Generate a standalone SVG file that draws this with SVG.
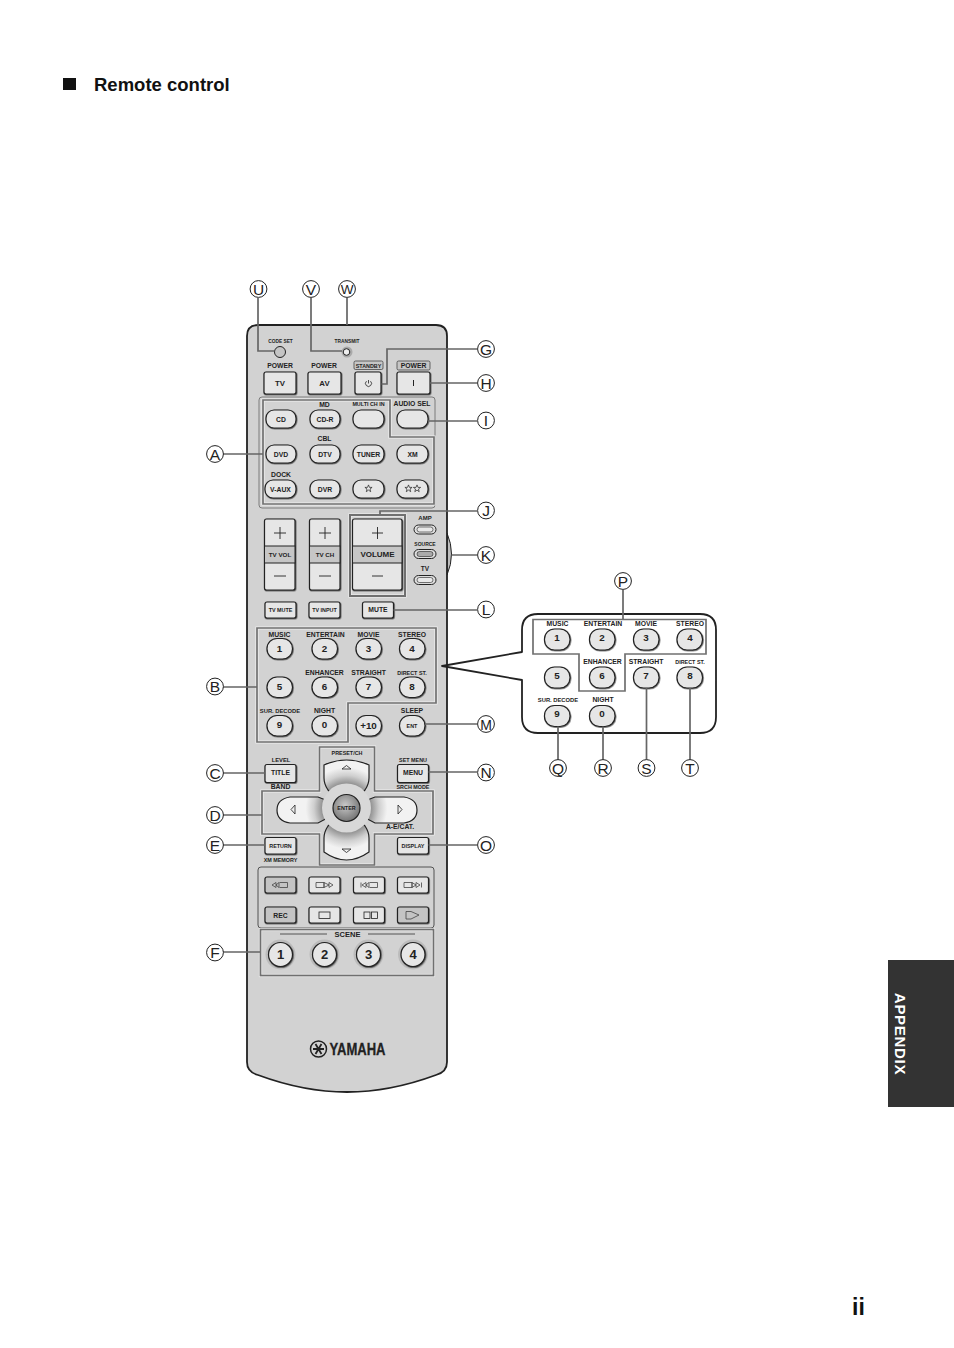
<svg xmlns="http://www.w3.org/2000/svg" width="954" height="1348" viewBox="0 0 954 1348">
<style>
text{font-family:"Liberation Sans",Arial,sans-serif;fill:#222;text-anchor:middle}
.t{font-weight:700;font-size:6.800px}
.s{font-weight:700;font-size:5.400px}
.b{font-weight:700;font-size:7.800px}
.n{font-weight:700;font-size:9.800px}
.c{font-size:15.500px;fill:#222}
.lc{fill:#fff;stroke:#222;stroke-width:1}
.btn{fill:#e6e6e6;stroke:#222;stroke-width:1.200;filter:url(#sh)}
.gbtn{fill:#c4c4c4;stroke:#222;stroke-width:1.200;filter:url(#sh)}
.nav{fill:url(#navg);stroke:#222;stroke-width:1.200}
.hw{fill:none;stroke:#efefef;stroke-width:3.200}
.hg{fill:none;stroke:#707070;stroke-width:1.700}
.ln{fill:none;stroke:#666;stroke-width:1.700}
.g{fill:none;stroke:#444;stroke-width:.8}
</style>
<defs>
<filter id="sh" x="-10%" y="-10%" width="125%" height="130%"><feDropShadow dx=".6" dy=".7" stdDeviation=".25" flood-color="#222" flood-opacity=".8"/></filter>
<radialGradient id="navg" gradientUnits="userSpaceOnUse" cx="346.500" cy="808" r="48"><stop offset=".5" stop-color="#8f8f8f"/><stop offset=".68" stop-color="#cfcfcf"/><stop offset=".85" stop-color="#f2f2f2"/></radialGradient>
<radialGradient id="entg" cx=".45" cy=".4" r=".65"><stop offset="0" stop-color="#c8c8c8"/><stop offset="1" stop-color="#6e6e6e"/></radialGradient>
<path id="star" d="M0-3.600 1 -1.100 3.600 -1.100 1.500 .5 2.200 3.200 0 1.600 -2.200 3.200 -1.500 .5 -3.600 -1.100 -1 -1.100Z" fill="none" stroke="#222" stroke-width=".7"/>
</defs>
<rect width="954" height="1348" fill="#fff"/>

<g id="heading">
<rect x="63" y="78" width="13" height="12" fill="#111"/>
<text x="94" y="91" style="text-anchor:start;font-weight:700;font-size:18.500px;fill:#111">Remote control</text>
</g>
<g id="tab">
<rect x="888" y="960" width="66" height="147" fill="#333"/>
<text transform="translate(895,1034) rotate(90)" style="font-weight:700;font-size:15px;fill:#fff;letter-spacing:.7px">APPENDIX</text>
</g>
<text id="page" x="858.500" y="1315" style="font-weight:700;font-size:23px;fill:#111">ii</text>

<g id="remote-body">
<path d="M447 533Q456 554 447 575Z" fill="#bdbdbd" stroke="#222" stroke-width="1"/>
<path d="M247 336Q247 325 258 325H436Q447 325 447 336V1062Q447 1072 436 1075Q390 1092 347 1092Q304 1092 258 1075Q247 1072 247 1062Z" fill="#d2d2d2" stroke="#222" stroke-width="1.800"/>
</g>

<g id="highlights">
<rect x="259" y="397" width="176" height="111" rx="3" fill="none" stroke="#666" stroke-width=".8"/>
<path class="hw" d="M263 400H390V437H434V504H263Z"/><path class="hg" d="M263 400H390V437H434V504H263Z"/>
<rect class="hw" x="350" y="515" width="55" height="81"/><rect class="hg" x="350" y="515" width="55" height="81" style="stroke-width:2"/>
<path class="hw" d="M257 628H436V703H348V742H257Z"/><path class="hg" d="M257 628H436V703H348V742H257Z"/>
<path class="hw" d="M319.500 747H374.500V791H433V834H374.500V865H319.500V834H262V791H319.500Z"/><path class="hg" d="M319.500 747H374.500V791H433V834H374.500V865H319.500V834H262V791H319.500Z"/>
<rect x="258" y="867" width="176" height="61" rx="3" fill="none" stroke="#444" stroke-width=".9"/>
<rect class="hw" x="260.500" y="929.500" width="173" height="46"/><rect class="hg" x="260.500" y="929.500" width="173" height="46"/>
</g>

<g id="top-row">
<text class="s" x="280.500" y="343" style="font-size:4.800px">CODE SET</text>
<text class="s" x="347" y="343" style="font-size:4.800px">TRANSMIT</text>
<circle cx="280" cy="352" r="5.500" fill="#c4c4c4" stroke="#222" stroke-width="1"/>
<circle cx="347" cy="352" r="5.500" fill="#aaa"/><circle cx="346.500" cy="352" r="3.300" fill="#eee" stroke="#222" stroke-width="1"/>
<text class="t" x="280" y="368">POWER</text><text class="t" x="324" y="368">POWER</text>
<rect x="354" y="361" width="29" height="8.500" rx="1.500" fill="#c6c6c6" stroke="#333" stroke-width=".7"/><text class="s" x="368.500" y="367.500">STANDBY</text>
<rect x="397" y="361" width="33" height="9" rx="1.500" fill="#c6c6c6" stroke="#333" stroke-width=".7"/><text class="t" x="413.500" y="368">POWER</text>
</g>
<g id="btn-tv"><rect class="btn" x="264" y="372" width="32" height="22" rx="2"/><text class="b" x="280" y="386">TV</text></g>
<g id="btn-av"><rect class="btn" x="308" y="372" width="33" height="22" rx="2"/><text class="b" x="324.500" y="386">AV</text></g>
<g id="btn-standby"><rect class="btn" x="355" y="372" width="26" height="22" rx="2"/><path d="M366.500 381.200a3 3 0 1 0 4 0M368.500 380v3.500" fill="none" stroke="#222" stroke-width=".8"/></g>
<g id="btn-i"><rect class="btn" x="397" y="372" width="33" height="22" rx="2"/><path d="M413.500 380v6" stroke="#222" stroke-width="1"/></g>

<g id="input-labels">
<text class="t" x="324.500" y="406.500">MD</text><text class="s" x="368.500" y="405.500">MULTI CH IN</text>
<text class="t" x="412" y="405.500">AUDIO SEL</text><text class="t" x="324.500" y="441">CBL</text><text class="t" x="281" y="477">DOCK</text>
</g>
<g id="input-buttons">
<rect class="btn" x="266" y="410" width="30" height="18" rx="8"/><text class="t" x="281" y="421.500">CD</text>
<rect class="btn" x="310" y="410" width="30" height="18" rx="8"/><text class="t" x="325" y="421.500">CD-R</text>
<rect class="btn" x="353" y="410" width="31" height="18" rx="8"/>
<rect class="btn" x="397" y="410" width="31" height="18" rx="8"/>
<rect class="btn" x="266" y="445" width="30" height="18" rx="8"/><text class="t" x="281" y="456.500">DVD</text>
<rect class="btn" x="310" y="445" width="30" height="18" rx="8"/><text class="t" x="325" y="456.500">DTV</text>
<rect class="btn" x="353" y="445" width="31" height="18" rx="8"/><text class="t" x="368.500" y="456.500">TUNER</text>
<rect class="btn" x="397" y="445" width="31" height="18" rx="8"/><text class="t" x="412.500" y="456.500">XM</text>
<rect class="btn" x="265" y="480" width="31" height="18" rx="8"/><text class="t" x="280.500" y="491.500">V-AUX</text>
<rect class="btn" x="310" y="480" width="30" height="18" rx="8"/><text class="t" x="325" y="491.500">DVR</text>
<rect class="btn" x="353" y="480" width="31" height="18" rx="8"/><use href="#star" x="368.500" y="488.500"/>
<rect class="btn" x="397" y="480" width="31" height="18" rx="8"/><use href="#star" x="408.500" y="488.500"/><use href="#star" x="417" y="488.500"/>
</g>

<g id="tv-vol">
<rect class="btn" x="264.500" y="519" width="30.500" height="71" rx="2"/>
<rect x="264.500" y="546" width="30.500" height="17" fill="#c6c6c6" stroke="#222" stroke-width="1"/>
<path d="M274 533H286M280 527V539M274 576H286" stroke="#222" fill="none" stroke-width=".9"/>
<text class="s" x="280" y="556.500" style="font-size:6.200px">TV VOL</text>
</g>
<g id="tv-ch">
<rect class="btn" x="309.500" y="519" width="30.500" height="71" rx="2"/>
<rect x="309.500" y="546" width="30.500" height="17" fill="#c6c6c6" stroke="#222" stroke-width="1"/>
<path d="M319 533H331M325 527V539M319 576H331" stroke="#222" fill="none" stroke-width=".9"/>
<text class="s" x="325" y="556.500" style="font-size:6.200px">TV CH</text>
</g>
<g id="volume">
<rect class="btn" x="352.500" y="519" width="49.500" height="71" rx="2"/>
<rect x="352.500" y="546" width="49.500" height="17" fill="#c6c6c6" stroke="#222" stroke-width="1"/>
<path d="M372 533H383M377.500 527V539M372 576H383" stroke="#222" fill="none" stroke-width=".9"/>
<text class="t" x="377.500" y="557" style="font-size:8px">VOLUME</text>
</g>
<g id="mode-leds">
<text class="s" x="425" y="520" style="font-size:6px">AMP</text>
<text class="s" x="425" y="546" style="font-size:5px">SOURCE</text>
<text class="s" x="425" y="570.500" style="font-size:6.500px">TV</text>
<rect x="414" y="525" width="22" height="9" rx="4.500" fill="#ddd" stroke="#222"/><rect x="417" y="527" width="16" height="5" rx="2.500" fill="#e8e8e8" stroke="#222" stroke-width=".6"/>
<rect x="414" y="549.500" width="22" height="9" rx="4.500" fill="#ddd" stroke="#222"/><rect x="417" y="551.500" width="16" height="5" rx="2.500" fill="#aaa" stroke="#222" stroke-width=".6"/>
<rect x="414" y="575.500" width="22" height="9" rx="4.500" fill="#ddd" stroke="#222"/><rect x="417" y="577.500" width="16" height="5" rx="2.500" fill="#e8e8e8" stroke="#222" stroke-width=".6"/>
</g>
<g id="mute-row">
<rect class="btn" x="265" y="602" width="31" height="16" rx="2"/><text class="s" x="280.500" y="612">TV MUTE</text>
<rect class="btn" x="309" y="602" width="31" height="16" rx="2"/><text class="s" x="324.500" y="612">TV INPUT</text>
<rect class="btn" x="362.500" y="602" width="31" height="16" rx="2"/><text class="t" x="378" y="612">MUTE</text>
</g>

<g id="keypad">
<text class="t" x="279.500" y="636.500">MUSIC</text><text class="t" x="325.500" y="636.500">ENTERTAIN</text><text class="t" x="368.500" y="636.500">MOVIE</text><text class="t" x="412" y="636.500">STEREO</text>
<text class="t" x="324.500" y="675">ENHANCER</text><text class="t" x="368.500" y="675">STRAIGHT</text><text class="s" x="412" y="675">DIRECT ST.</text>
<text class="s" x="280" y="712.500" style="font-size:5.800px">SUR. DECODE</text><text class="t" x="324.500" y="712.500">NIGHT</text><text class="t" x="412" y="712.500">SLEEP</text>
<rect class="btn" x="267" y="638.500" width="25.500" height="20.500" rx="10"/><text class="n" x="279.500" y="651.500">1</text>
<rect class="btn" x="312" y="638.500" width="25.500" height="20.500" rx="10"/><text class="n" x="324.500" y="651.500">2</text>
<rect class="btn" x="356" y="638.500" width="25.500" height="20.500" rx="10"/><text class="n" x="368.500" y="651.500">3</text>
<rect class="btn" x="399.500" y="638.500" width="25.500" height="20.500" rx="10"/><text class="n" x="412" y="651.500">4</text>
<rect class="btn" x="267" y="677" width="25.500" height="20.500" rx="10"/><text class="n" x="279.500" y="689.500">5</text>
<rect class="btn" x="312" y="677" width="25.500" height="20.500" rx="10"/><text class="n" x="324.500" y="689.500">6</text>
<rect class="btn" x="356" y="677" width="25.500" height="20.500" rx="10"/><text class="n" x="368.500" y="689.500">7</text>
<rect class="btn" x="399.500" y="677" width="25.500" height="20.500" rx="10"/><text class="n" x="412" y="689.500">8</text>
<rect class="btn" x="267" y="715.500" width="25.500" height="20.500" rx="10"/><text class="n" x="279.500" y="727.500">9</text>
<rect class="btn" x="312" y="715.500" width="25.500" height="20.500" rx="10"/><text class="n" x="324.500" y="727.500">0</text>
<rect class="btn" x="356" y="715.500" width="25.500" height="20.500" rx="10"/><text class="n" x="368.500" y="728.500">+10</text>
<rect class="btn" x="399.500" y="715.500" width="25.500" height="20.500" rx="10"/><text class="s" x="412" y="727.500">ENT</text>
</g>

<g id="nav">
<text class="s" x="347" y="754.500">PRESET/CH</text>
<text class="s" x="281" y="761.500" style="font-size:5.800px">LEVEL</text><text class="s" x="413" y="761.500">SET MENU</text>
<text class="t" x="280.500" y="788.500">BAND</text><text class="s" x="413" y="788.500">SRCH MODE</text>
<text class="t" x="400" y="829">A-E/CAT.</text><text class="s" x="280.500" y="861.500">XM MEMORY</text>
<rect class="btn" x="265" y="764.500" width="31" height="18" rx="2"/><text class="t" x="280.500" y="775">TITLE</text>
<rect class="btn" x="397.500" y="764.500" width="31" height="18" rx="2"/><text class="t" x="413" y="775">MENU</text>
<rect class="btn" x="265" y="837.500" width="31" height="16.500" rx="2"/><text class="s" x="280.500" y="847.500">RETURN</text>
<rect class="btn" x="397.500" y="837.500" width="31" height="16.500" rx="2"/><text class="s" x="413" y="847.500">DISPLAY</text>
<path class="nav" d="M324 765Q346.500 755 369 765V778Q369 784 365 790L346.500 808 328 790Q324 784 324 778Z"/>
<path class="nav" d="M324 852Q346.500 868 369 852V838Q369 832 365 826L346.500 808 328 826Q324 832 324 838Z"/>
<path class="nav" d="M290 797H318L346.500 808 318 823H290Q277 821 277 810Q277 799 290 797Z"/>
<path class="nav" d="M404 797H375L346.500 808 375 823H404Q417 821 417 810Q417 799 404 797Z"/>
<circle cx="346.500" cy="808" r="24.500" fill="#d8d8d8"/>
<circle cx="346.500" cy="808" r="13.500" fill="url(#entg)" stroke="#222" stroke-width="1.200"/>
<text class="s" x="346.500" y="810">ENTER</text>
<path d="M342 769 346.500 765.500 351 769Z M342 849 346.500 852.500 351 849Z M295 805V814L291 809.500Z M398 805V814L402 809.500Z" fill="#eee" stroke="#222" stroke-width=".8"/>
</g>

<g id="transport">
<rect class="gbtn" x="265" y="877" width="31" height="16" rx="2"/><path class="g" d="M272 885l4-2.500v5ZM276 885l3-2.500v5ZM279.500 882.500h8v5h-8"/>
<rect class="btn" x="309" y="877" width="31" height="16" rx="2"/><path class="g" d="M316 882.500h8v5h-8ZM324 882.500l5 2.500-5 2.500ZM329 882.500l4 2.500-4 2.500Z"/>
<rect class="btn" x="353.500" y="877" width="31" height="16" rx="2"/><path class="g" d="M361 882.500v5M362 885l4-2.500v5ZM366 885l3-2.500v5ZM369.500 882.500h8v5h-8"/>
<rect class="btn" x="397.500" y="877" width="31" height="16" rx="2"/><path class="g" d="M404 882.500h8v5h-8ZM412 882.500l4 2.500-4 2.500ZM416 882.500l4 2.500-4 2.500ZM421.500 882.500v5"/>
<rect class="gbtn" x="265" y="907" width="31" height="16" rx="2"/><text class="t" x="280.500" y="917.500">REC</text>
<rect class="btn" x="309" y="907" width="31" height="16" rx="2"/><rect x="319" y="912" width="11" height="6.500" fill="none" stroke="#222" stroke-width=".8"/>
<rect class="btn" x="353.500" y="907" width="31" height="16" rx="2"/><rect x="364" y="912" width="6" height="6.500" fill="none" stroke="#222" stroke-width=".8"/><rect x="371.500" y="912" width="6" height="6.500" fill="none" stroke="#222" stroke-width=".8"/>
<rect class="gbtn" x="397.500" y="907" width="31" height="16" rx="2"/><path class="g" d="M406 911.500H411L419 915 411 919H406Z"/>
</g>

<g id="scene">
<text class="t" x="347.500" y="936.500" style="font-size:7.500px">SCENE</text>
<path d="M280 934H327M368 934H415" stroke="#333" stroke-width=".8"/>
<circle cx="280.500" cy="954.500" r="15" fill="#bcbcbc"/><circle cx="280.500" cy="954.500" r="12" class="btn"/><text x="280.500" y="959" style="font-weight:700;font-size:13px">1</text>
<circle cx="324.500" cy="954.500" r="15" fill="#bcbcbc"/><circle cx="324.500" cy="954.500" r="12" class="btn"/><text x="324.500" y="959" style="font-weight:700;font-size:13px">2</text>
<circle cx="368.500" cy="954.500" r="15" fill="#bcbcbc"/><circle cx="368.500" cy="954.500" r="12" class="btn"/><text x="368.500" y="959" style="font-weight:700;font-size:13px">3</text>
<circle cx="413" cy="954.500" r="15" fill="#bcbcbc"/><circle cx="413" cy="954.500" r="12" class="btn"/><text x="413" y="959" style="font-weight:700;font-size:13px">4</text>
</g>

<g id="logo">
<circle cx="318.500" cy="1049" r="8" fill="#d2d2d2" stroke="#222" stroke-width="1.500"/>
<path d="M313 1049H324M315.500 1044 321.500 1054M321.500 1044 315.500 1054" stroke="#222" stroke-width="1.800"/>
<text x="357.500" y="1055" textLength="56" lengthAdjust="spacingAndGlyphs" style="font-weight:700;font-size:17px;fill:#222;stroke:#222;stroke-width:.3">YAMAHA</text>
</g>

<g id="callout">
<path d="M522 652V630Q522 614 538 614H700Q716 614 716 630V717Q716 733 700 733H538Q522 733 522 717V680L442 666Z" fill="#fff" stroke="#222" stroke-width="1.800" stroke-linejoin="round"/>
<path class="hg" d="M533 619.500H706V654H625V691H579V654H533Z"/>
<text class="t" x="557.500" y="625.500">MUSIC</text><text class="t" x="603" y="625.500">ENTERTAIN</text><text class="t" x="646" y="625.500">MOVIE</text><text class="t" x="690" y="625.500">STEREO</text>
<text class="t" x="602.500" y="664">ENHANCER</text><text class="t" x="646" y="664">STRAIGHT</text><text class="s" x="690" y="664">DIRECT ST.</text>
<text class="s" x="558" y="702" style="font-size:5.800px">SUR. DECODE</text><text class="t" x="603" y="702">NIGHT</text>
<rect class="btn" x="544.500" y="629" width="25.500" height="21" rx="10"/><text class="n" x="557" y="640.500">1</text>
<rect class="btn" x="589.500" y="629" width="25.500" height="21" rx="10"/><text class="n" x="602" y="640.500">2</text>
<rect class="btn" x="633.500" y="629" width="25.500" height="21" rx="10"/><text class="n" x="646" y="640.500">3</text>
<rect class="btn" x="677" y="629" width="25.500" height="21" rx="10"/><text class="n" x="690" y="640.500">4</text>
<rect class="btn" x="544.500" y="667" width="25.500" height="21" rx="10"/><text class="n" x="557" y="678.500">5</text>
<rect class="btn" x="589.500" y="667" width="25.500" height="21" rx="10"/><text class="n" x="602" y="678.500">6</text>
<rect class="btn" x="633.500" y="667" width="25.500" height="21" rx="10"/><text class="n" x="646" y="678.500">7</text>
<rect class="btn" x="677" y="667" width="25.500" height="21" rx="10"/><text class="n" x="690" y="678.500">8</text>
<rect class="btn" x="544.500" y="705.500" width="25.500" height="21" rx="10"/><text class="n" x="557" y="716.500">9</text>
<rect class="btn" x="589.500" y="705.500" width="25.500" height="21" rx="10"/><text class="n" x="602" y="716.500">0</text>
</g>

<g id="connectors">
<path class="ln" d="M258 298V351H274.500M311 298V351H342M347 298V325M381.500 384H387V349H477M430 383H477M428 421H477M223 454H263M477 511H380V514M451.500 555H477M393.500 610H477M223 687H257M425 724H477M223 773H265M428.500 772H477M223 815H262M223 845H265M428.500 845H477M223 952H260"/>
<path class="ln" d="M623 590V619M558 726.500V760M603 726.500V760M646.500 688V760M690 688V760"/>
</g>

<g id="callouts-letters">
<g id="lbl-u"><circle class="lc" cx="258.500" cy="289" r="8.400"/><text class="c" x="258.500" y="294.500">U</text></g>
<g id="lbl-v"><circle class="lc" cx="311" cy="289" r="8.400"/><text class="c" x="311" y="294.500">V</text></g>
<g id="lbl-w"><circle class="lc" cx="347" cy="289" r="8.400"/><text class="c" x="347" y="294" style="font-size:13.500px">W</text></g>
<g id="lbl-g"><circle class="lc" cx="486" cy="349" r="8.400"/><text class="c" x="486" y="354.500">G</text></g>
<g id="lbl-h"><circle class="lc" cx="486" cy="383" r="8.400"/><text class="c" x="486" y="388.500">H</text></g>
<g id="lbl-i"><circle class="lc" cx="486" cy="420.500" r="8.400"/><text class="c" x="486" y="426">I</text></g>
<g id="lbl-a"><circle class="lc" cx="215" cy="454" r="8.400"/><text class="c" x="215" y="459.500">A</text></g>
<g id="lbl-j"><circle class="lc" cx="486" cy="510.500" r="8.400"/><text class="c" x="486" y="516">J</text></g>
<g id="lbl-k"><circle class="lc" cx="486" cy="555" r="8.400"/><text class="c" x="486" y="560.500">K</text></g>
<g id="lbl-l"><circle class="lc" cx="486" cy="609.500" r="8.400"/><text class="c" x="486" y="615">L</text></g>
<g id="lbl-b"><circle class="lc" cx="215" cy="686.500" r="8.400"/><text class="c" x="215" y="692">B</text></g>
<g id="lbl-m"><circle class="lc" cx="486" cy="724" r="8.400"/><text class="c" x="486" y="729.500" style="font-size:14px">M</text></g>
<g id="lbl-c"><circle class="lc" cx="215" cy="773" r="8.400"/><text class="c" x="215" y="778.500">C</text></g>
<g id="lbl-n"><circle class="lc" cx="486" cy="772.500" r="8.400"/><text class="c" x="486" y="778">N</text></g>
<g id="lbl-d"><circle class="lc" cx="215" cy="815" r="8.400"/><text class="c" x="215" y="820.500">D</text></g>
<g id="lbl-e"><circle class="lc" cx="215" cy="845" r="8.400"/><text class="c" x="215" y="850.500">E</text></g>
<g id="lbl-o"><circle class="lc" cx="486" cy="845" r="8.400"/><text class="c" x="486" y="850.500">O</text></g>
<g id="lbl-f"><circle class="lc" cx="215" cy="952.500" r="8.400"/><text class="c" x="215" y="958">F</text></g>
<g id="lbl-p"><circle class="lc" cx="623" cy="581" r="8.400"/><text class="c" x="623" y="586.500">P</text></g>
<g id="lbl-q"><circle class="lc" cx="558" cy="768" r="8.400"/><text class="c" x="558" y="773.500">Q</text></g>
<g id="lbl-r"><circle class="lc" cx="603" cy="768" r="8.400"/><text class="c" x="603" y="773.500">R</text></g>
<g id="lbl-s"><circle class="lc" cx="646.500" cy="768" r="8.400"/><text class="c" x="646.500" y="773.500">S</text></g>
<g id="lbl-t"><circle class="lc" cx="690" cy="768" r="8.400"/><text class="c" x="690" y="773.500">T</text></g>
</g>
</svg>
